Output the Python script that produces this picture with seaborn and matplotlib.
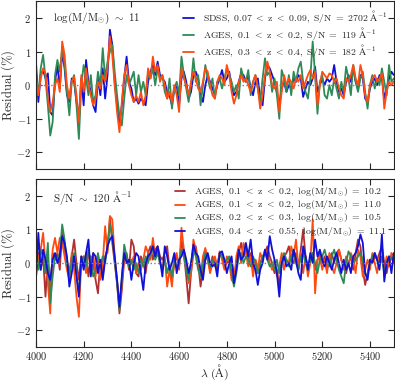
import numpy as np
import pandas as pd
import matplotlib
matplotlib.use("Agg")
import matplotlib.pyplot as plt
import seaborn as sns

lam_min, lam_max = 4000, 5500

# painel de cima: log(M/Msun) ~ 11
sdss_top = [0.7, -0.5, 0.3, 0.45, 0.2, 0.35, -0.8, -0.9, 0.1, 0.6,
            -0.1, 1.0, 0.5, -0.3, -0.5, 0.2, 0.1, -0.5, -1.0, 0.2,
            -0.6, 0.75, 0.1, -0.2, -0.6, -0.8, 0.2, -0.3, 0.5, -0.4,
            0.3, 1.65, 1.2, 0.1, -0.6, -1.2, -0.6, 0.2, 0.85, 0.1,
            -0.1, -0.5, -0.4, -0.55, -0.4, -0.5, -0.6, 0.1, 0.4, 0.6,
            0.3, 0.7, 0.3, 0.2, 0.1, -0.2, -0.3, -0.6, -0.1, 0.0,
            -0.6, 0.2, 0.4, 0.1, -0.4, -0.2, 0.3, 0.4, 0.2, -0.3,
            -0.5, 0.0, 0.3, 0.1, -0.1, -0.3, 0.0, 0.2, 0.45, 0.1,
            0.2, 0.4, 0.0, -0.3, -0.2, 0.1, 0.35, 0.3, 0.1, 0.3,
            -0.1, -0.3, 0.1, 0.2, -0.4, -0.6, 0.2, 0.6, 0.5, 0.3,
            0.1, -0.2, -0.6, -0.1, 0.1, -0.2, 0.0, -0.1, 0.2, 0.1,
            0.3, 0.2, -0.35, -0.1, 0.1, 0.0, 0.2, 0.55, -0.2, 0.0,
            0.2, 0.0, 0.2, 0.1, 0.2, 0.6, 0.1, -0.2, -0.1, -0.3,
            0.1, 0.3, 0.1, 0.5, 0.1, -0.1, 0.3, 0.2, -0.4, -0.5,
            -0.1, 0.1, 0.2, 0.0, 0.3, 0.2, -0.4, -0.1, 0.2, 0.4,
            0.3]
ages12_top = [0.2, -0.3, 0.5, 0.9, 0.2, -0.6, -1.5, -1.1, 0.3, 0.75,
              0.4, 1.1, 0.6, -0.2, -0.9, 0.1, 0.3, -0.6, -1.6, 0.0,
              0.6, 0.2, -0.3, 0.3, -0.5, -0.3, 0.4, 0.0, 1.1, 0.2,
              0.7, 1.0, 1.2, 0.4, -0.3, -0.9, -1.2, -0.4, 0.3, 0.0,
              0.2, 0.4, -0.3, 0.3, -0.2, 0.1, -0.3, 0.35, 0.2, 0.5,
              0.0, 0.5, 0.2, 0.3, -0.2, -0.4, 0.2, -0.7, -0.1, 0.1,
              -0.3, 0.85, 0.3, -0.1, -0.5, 0.0, 0.8, 0.1, 0.3, -0.6,
              0.0, 0.6, 0.2, -0.1, 0.2, -0.4, 0.1, 0.2, -0.1, 0.2,
              0.5, 0.3, 0.1, -0.2, 0.0, -0.4, 0.5, 0.2, 0.1, 0.45,
              -0.3, 0.1, 0.3, -0.1, -0.5, 0.2, 0.8, 0.3, 0.4, -0.2,
              0.2, -0.3, -1.0, 0.45, 0.2, -0.2, 0.3, -0.3, 0.4, 0.1,
              0.5, 0.7, 0.1, -0.2, -0.4, 0.2, 1.3, 0.3, -0.85, 0.1,
              0.3, -0.3, -0.4, 0.0, -0.3, 0.2, -0.1, -0.4, 0.1, -0.2,
              0.55, 0.2, -0.3, 0.6, 0.1, -0.2, 0.2, 0.4, -0.2, -0.7,
              0.0, 0.3, -0.1, 0.2, 0.0, 0.5, 0.1, -0.3, 0.6, 0.1,
              0.2]
ages34_top = [0.3, -0.3, 0.2, 0.5, 0.35, -0.4, -0.8, -0.5, 0.0, 0.2,
              -0.2, 1.3, 0.9, 0.0, -0.4, 0.1, 0.25, -0.3, -1.1, 0.3,
              -0.2, 0.5, 0.0, -0.3, -0.6, -0.4, 0.1, -0.1, 0.3, 0.1,
              0.5, 1.45, 0.9, 0.0, -0.8, -1.4, -0.5, 0.3, 0.6, 0.0,
              -0.3, -0.5, -0.3, -0.5, -0.2, -0.6, -0.3, 0.5, 0.2, 0.85,
              0.4, 0.6, 0.1, 0.3, 0.0, -0.4, -0.2, -0.5, 0.0, -0.3,
              -0.8, 0.5, 0.2, 0.0, -0.3, 0.1, 0.4, 0.2, -0.1, -0.2,
              0.1, 0.5, 0.4, 0.0, -0.3, -0.4, 0.1, 0.3, 0.2, 0.0,
              0.6, 0.3, -0.2, -0.55, -0.3, 0.1, 0.3, 0.1, 0.2, 0.0,
              -0.2, 0.1, 0.3, -0.1, -0.7, -0.3, 0.3, 0.7, 0.4, 0.0,
              -0.1, 0.1, -0.8, -0.2, 0.3, 0.0, 0.2, 0.1, -0.1, 0.2,
              0.1, 0.3, -0.1, 0.1, 0.3, 0.45, 0.2, 0.4, -0.6, 0.0,
              0.4, 0.3, 0.2, 0.35, 0.3, 0.1, 0.2, -0.1, -0.3, -0.4,
              0.2, 0.1, 0.3, 0.6, 0.2, 0.0, 0.6, 0.3, -0.3, -0.5,
              0.0, 0.2, 0.3, 0.1, 0.2, 0.35, -0.7, -0.2, 0.1, 0.0,
              0.1]

# painel de baixo: S/N ~ 120
m102_bot = [0.1, 0.3, -0.2, 0.2, -1.0, 0.1, -0.9, 0.3, 0.1, 0.3,
            -0.2, 1.0, 0.4, 0.1, -0.3, 0.2, 0.7, 0.0, -0.5, 0.2,
            -0.1, 0.3, -0.4, 0.2, 0.0, -0.5, -0.9, 0.1, -0.4, 0.2,
            0.4, 1.35, 0.6, 0.0, -0.6, -1.5, -0.8, 0.1, 0.3, -0.2,
            0.7, 0.5, -0.3, -0.4, 0.2, 0.0, -0.3, 0.3, 0.5, 0.1,
            0.4, 0.5, 0.2, 0.1, 0.3, 0.5, -0.2, -0.5, 0.0, 0.2,
            -0.1, 0.65, 0.3, -0.4, -1.2, -0.3, 0.3, 0.5, 0.0, -0.7,
            -0.2, 0.3, 0.1, -0.2, 0.2, 0.0, -0.2, 0.3, 0.2, -0.1,
            0.0, 0.1, 0.1, -0.4, 0.0, 0.3, 0.6, 0.2, 0.4, 0.1,
            0.3, -0.2, 0.1, -0.3, 0.0, 0.2, 0.3, 0.5, 0.2, 0.0,
            -0.3, -0.2, -0.7, 0.0, 0.2, 0.3, 0.5, 0.1, 0.0, 0.3,
            -0.2, 0.4, 1.0, 0.2, -0.1, 0.1, 0.3, -0.2, 0.1, 0.3,
            0.0, 0.2, -0.2, 0.1, 0.3, 0.0, 0.3, 0.4, 0.1, -0.1,
            -0.3, 0.0, 0.2, -0.2, 0.3, 0.7, 0.5, -0.2, -0.65, -0.3,
            0.1, 0.0, 0.2, 0.1, 0.3, 0.5, 0.0, -0.3, 0.1, 0.2,
            0.0]
m110_bot = [-0.4, 0.2, 0.4, 0.9, 0.0, -0.6, -1.5, 0.4, 0.75, 0.3,
            0.75, 0.6, 0.2, -0.2, -0.5, 0.3, -0.2, -1.0, -1.6, 0.1,
            0.2, -0.3, 0.3, 0.0, 0.3, -0.4, 0.2, -0.5, 0.0, 1.1,
            0.3, 1.4, 1.3, 0.2, -0.5, -1.3, -0.6, 0.2, 0.1, -0.1,
            0.0, 0.2, -0.3, 0.0, -0.2, 0.1, 0.5, 0.3, 0.1, 0.75,
            0.2, 0.4, 0.0, -0.1, 0.2, -0.7, -0.2, -0.7, 0.1, 0.3,
            -0.2, 1.05, 0.4, 0.0, -0.6, -0.3, 0.7, 0.4, -0.1, -0.4,
            0.2, 0.45, 0.1, -0.3, 0.0, 0.2, -0.1, 0.35, 0.1, -0.2,
            0.2, 0.0, -0.5, -0.6, 0.2, 0.5, 0.0, 0.6, 0.3, -0.1,
            0.2, -0.4, 0.1, -0.2, 0.3, 0.1, 0.4, 0.3, 0.0, -0.2,
            0.1, -0.4, -0.1, 0.3, -0.2, 0.1, 0.0, 0.5, 0.2, 0.7,
            -0.1, 0.3, -0.3, 0.2, -0.4, 0.0, 1.3, -0.9, 0.1, 0.2,
            -0.2, 0.1, -0.3, 0.3, -0.1, -0.3, 0.0, 0.4, 0.1, -0.2,
            0.2, -0.1, 0.3, 0.1, -0.3, 0.4, 0.2, -0.4, -0.2, 0.1,
            -0.2, 0.3, 0.0, -0.3, 0.2, 0.1, -0.2, 0.2, -0.1, 0.3,
            0.2]
m105_bot = [0.3, -0.2, 0.4, 0.2, -0.3, 0.6, -1.2, -0.4, 0.2, 0.1,
            0.3, 1.15, 0.7, 0.0, -0.4, 0.1, 0.3, -0.3, -0.9, 0.0,
            0.2, -0.1, 0.4, 0.0, -0.4, -0.2, 0.3, -0.1, 0.2, 0.0,
            0.5, 1.15, 0.8, 0.1, -0.6, -1.4, -0.5, 0.55, 0.2, -0.1,
            0.1, -0.2, 0.0, -0.3, 0.1, -0.1, 0.2, 0.0, 0.3, 0.4,
            0.1, 0.3, 0.0, -0.2, 0.1, -0.3, 0.0, -0.4, 0.1, -0.1,
            0.0, 0.4, 0.2, -0.2, -0.5, 0.0, 0.4, 0.2, -0.2, -0.4,
            0.0, 0.3, 0.1, -0.1, 0.1, -0.1, 0.0, 0.2, 0.3, 0.0,
            0.1, 0.2, -0.3, -0.7, -0.3, 0.2, 0.3, 0.0, 0.2, 0.1,
            -0.1, 0.2, 0.0, -0.3, -0.1, 0.2, 0.3, 0.1, -0.1, 0.0,
            -0.2, 0.1, -0.3, 0.0, 0.3, 0.1, -0.1, 0.2, 0.4, 0.0,
            -0.2, 0.2, 0.3, 0.0, -0.2, 0.1, 0.3, 0.0, -0.3, 0.1,
            0.2, 0.4, 0.1, -0.1, 0.2, 0.4, 0.1, -0.2, -0.4, -0.6,
            0.0, 0.35, 0.2, 0.0, 0.1, 0.2, 0.3, 0.1, -0.3, -0.4,
            0.0, 0.2, 0.3, 0.1, -0.1, 0.2, -0.3, 0.0, 0.2, 0.1,
            0.2]
m111_bot = [-0.5, 0.9, -0.2, 0.4, 0.1, -0.3, -0.5, 0.1, 0.3, 0.0,
            0.2, 0.8, 0.6, 0.2, -0.7, -0.3, 0.2, -0.4, -1.0, 0.2,
            -0.2, 0.3, 0.7, -0.4, 0.3, 0.2, -0.3, 0.1, -0.5, 0.1,
            0.5, 0.7, 0.8, 0.2, -0.5, -1.3, -0.4, 0.3, 0.0, 0.1,
            -0.5, 0.0, 0.3, 0.2, -0.3, -0.8, 0.0, 0.2, 0.3, 0.5,
            0.2, 0.5, 0.1, -0.4, 0.5, 0.2, -0.2, 0.0, 0.3, -0.3,
            0.1, 0.2, 0.4, 0.1, -0.3, 0.0, 0.55, 0.3, 0.2, -0.2,
            -0.5, 0.1, 0.3, 0.0, -0.1, 0.0, -0.4, 0.3, 0.35, 0.1,
            -0.3, 0.0, 0.2, -0.6, -0.2, 0.4, 0.1, 0.2, 0.6, 0.2,
            0.7, 0.0, -0.2, -0.65, -0.2, 0.0, 0.4, 0.1, 0.8, 0.4,
            0.1, -0.3, -1.0, 0.0, 0.2, -0.1, 0.0, -0.2, 0.4, 0.1,
            -0.3, -0.5, 0.5, 0.2, -0.2, 0.3, 0.0, 0.7, 0.2, 0.4,
            0.1, -0.1, 0.2, 0.0, -0.2, 0.1, 0.3, 0.0, -0.3, 0.1,
            -0.2, 0.0, -0.3, 0.2, 0.3, 0.5, 0.85, 0.6, -0.3, -0.5,
            0.1, 0.0, 0.3, 0.1, -0.2, 0.85, -0.55, 0.0, 0.2, -0.3,
            0.3]

labels_top = [r'$\mathrm{SDSS,}\ 0.07\ <\ \mathrm{z}\ <\ 0.09,\ \mathrm{S/N}\ =\ 2702\ \mathrm{\AA}^{-1}$',
              r'$\mathrm{AGES,}\ 0.1\ <\ \mathrm{z}\ <\ 0.2,\ \mathrm{S/N}\ =\ 119\ \mathrm{\AA}^{-1}$',
              r'$\mathrm{AGES,}\ 0.3\ <\ \mathrm{z}\ <\ 0.4,\ \mathrm{S/N}\ =\ 182\ \mathrm{\AA}^{-1}$']
labels_bot = [r'$\mathrm{AGES,}\ 0.1\ <\ \mathrm{z}\ <\ 0.2,\ \mathrm{log(M/M_{\odot})}\ =\ 10.2$',
              r'$\mathrm{AGES,}\ 0.1\ <\ \mathrm{z}\ <\ 0.2,\ \mathrm{log(M/M_{\odot})}\ =\ 11.0$',
              r'$\mathrm{AGES,}\ 0.2\ <\ \mathrm{z}\ <\ 0.3,\ \mathrm{log(M/M_{\odot})}\ =\ 10.5$',
              r'$\mathrm{AGES,}\ 0.4\ <\ \mathrm{z}\ <\ 0.55,\ \mathrm{log(M/M_{\odot})}\ =\ 11.1$']
cores_top = ['#1010d8', '#2e8b57', '#ff4a10']
cores_bot = ['#b03030', '#ff4a10', '#2e8b57', '#1010d8']

sns.set_style('ticks')
plt.rcParams['font.family'] = 'serif'
plt.rcParams['font.serif'] = ['cmr10', 'DejaVu Serif']
plt.rcParams['mathtext.fontset'] = 'cm'
plt.rcParams['axes.formatter.use_mathtext'] = True
plt.rcParams['axes.unicode_minus'] = True

fig = plt.figure(figsize=(3.95, 3.81), dpi=100)
ax1 = fig.add_axes([0.091, 0.556, 0.906, 0.441])
ax2 = fig.add_axes([0.091, 0.089, 0.906, 0.441])

def painel(ax, series, labels, cores):
    for y, lab, c in zip(series, labels, cores):
        x = np.linspace(lam_min, lam_max, len(y))
        sns.lineplot(x=x, y=y, ax=ax, color=c, lw=1.3, label=lab)
    ax.axhline(0, color='gray', ls=':', lw=1)
    ax.set_xlim(lam_min, lam_max)
    ax.set_ylim(-2.5, 2.5)
    ax.set_xticks(np.arange(4000, 5500, 200))
    ax.set_yticks([-2, -1, 0, 1, 2])
    ax.tick_params(direction='in', top=True, right=True, labelsize=7.5, length=4)
    ax.tick_params(axis='x', pad=2)
    ax.set_ylabel(r'$\mathrm{Residual\ (\%)}$', fontsize=9)
    ax.yaxis.set_label_coords(-0.052, 0.5)
    ax.legend(loc='upper right', frameon=False, fontsize=7, handlelength=1.1,
              handletextpad=0.9, labelspacing=0.0, borderaxespad=0.3)

painel(ax1, [sdss_top, ages12_top, ages34_top], labels_top, cores_top)
painel(ax2, [m102_bot, m110_bot, m105_bot, m111_bot], labels_bot, cores_bot)
ax1.set_xticklabels([])
ax1.set_xlabel('')
ax2.set_xlabel(r'$\lambda\ (\mathrm{\AA})$', fontsize=8.5)
ax2.xaxis.set_label_coords(0.5, -0.092)

ax1.text(0.047, 0.9, r'$\log(\mathrm{M/M_{\odot}})\ \sim\ 11$', transform=ax1.transAxes,
         fontsize=8, va='center')
ax2.text(0.047, 0.89, r'$\mathrm{S/N}\ \sim\ 120\ \mathrm{\AA}^{-1}$', transform=ax2.transAxes,
         fontsize=8, va='center')

fig.savefig('out.png', dpi=100)
